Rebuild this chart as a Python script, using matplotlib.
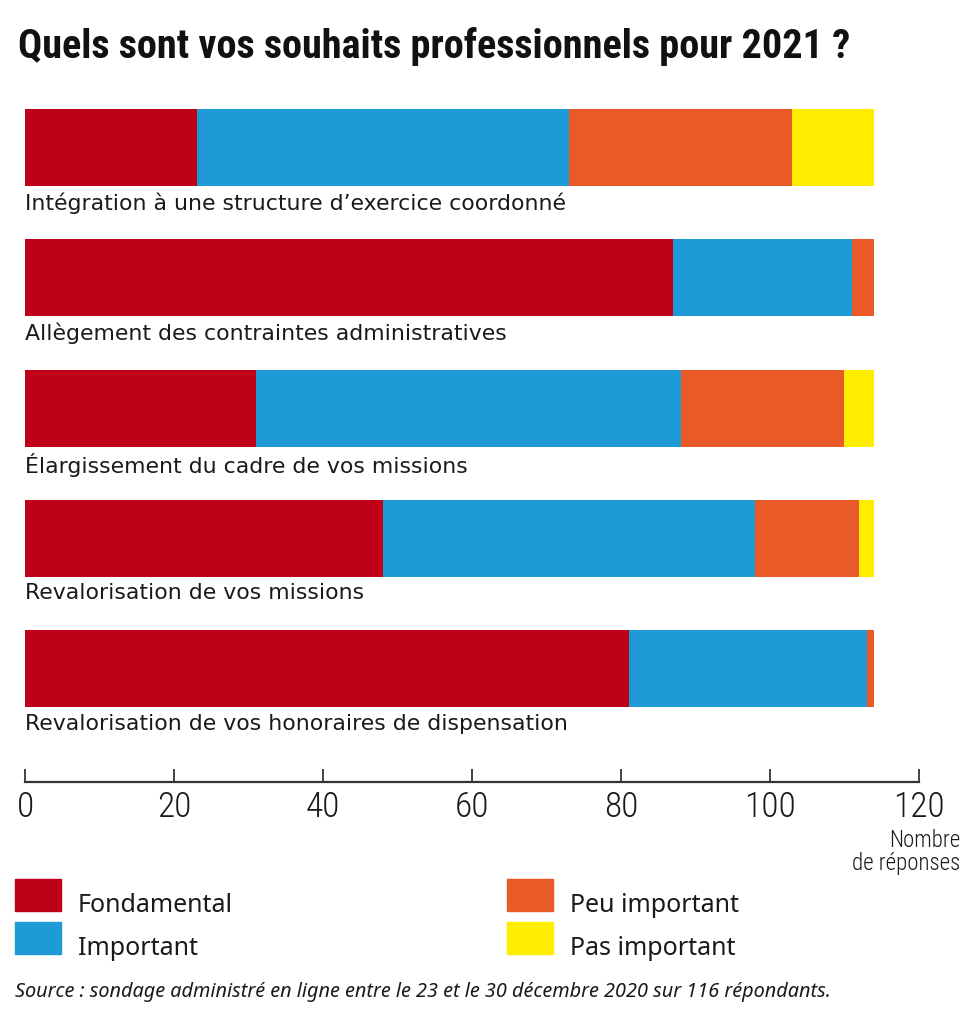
import matplotlib
matplotlib.use("Agg")
import matplotlib.pyplot as plt
from matplotlib import font_manager
from matplotlib.patches import Rectangle

# données
categories = [
    "Intégration à une structure d\u2019exercice coordonné",
    "Allègement des contraintes administratives",
    "Élargissement du cadre de vos missions",
    "Revalorisation de vos missions",
    "Revalorisation de vos honoraires de dispensation",
]
series_names = ["Fondamental", "Important", "Peu important", "Pas important"]
fondamental = [23, 87, 31, 48, 81]
important = [50, 24, 57, 50, 32]
peu_important = [30, 3, 22, 14, 1]
pas_important = [11, 0, 4, 2, 0]
xticks = [0, 20, 40, 60, 80, 100, 120]

colors = ["#BE0019", "#1E9BD7", "#EA5A28", "#FFED00"]

names = {f.name for f in font_manager.fontManager.ttflist}


def pick(cands):
    for c in cands:
        if c in names:
            return c
    return "DejaVu Sans"


NARROW = pick(["Roboto Condensed", "Liberation Sans Narrow", "DejaVu Sans Condensed", "Roboto"])
TEXT = pick(["DejaVu Sans"])
SMALL = pick(["Noto Sans"])

fig = plt.figure(figsize=(9.77, 10.24), dpi=100)
ax = fig.add_axes([0.0259, 0.2363, 0.9147, 0.666])

series = [fondamental, important, peu_important, pas_important]
bar_h = 0.592
left = [0] * len(categories)
for vals, col in zip(series, colors):
    ax.barh(range(len(categories)), vals, left=left, height=bar_h, color=col,
            edgecolor="none")
    left = [a + b for a, b in zip(left, vals)]

for i, cat in enumerate(categories):
    ax.text(-0.1, i + bar_h / 2 + 0.05, cat, ha="left", va="top",
            fontsize=15.8, family=TEXT, color="#1a1a1a")

ax.set_xlim(0, 120)
ax.set_ylim(4.871, -0.365)
for s in ["top", "left", "right"]:
    ax.spines[s].set_visible(False)
ax.spines["bottom"].set_color("#333333")
ax.spines["bottom"].set_linewidth(1.6)
ax.set_yticks([])
ax.set_xticks(xticks)
ax.tick_params(axis="x", direction="in", length=9.5, width=1.3, color="#333333",
               pad=6, labelsize=25.5, labelcolor="#1a1a1a")
for lab in ax.get_xticklabels():
    lab.set_family(NARROW)
    lab.set_fontweight("light")

fig.text(0.983, 0.19, "Nombre\nde réponses", ha="right", va="top",
         fontsize=16.5, family=NARROW, fontweight="light", color="#1a1a1a",
         linespacing=1.0)

fig.text(0.018, 0.955, "Quels sont vos souhaits professionnels pour 2021 ?",
         ha="left", va="center", fontsize=29, fontweight="black",
         family=NARROW, color="#111111")

# légende
W, H = 977, 1024
leg = [(15, 879, 0), (15, 922, 1), (507, 879, 2), (507, 922, 3)]
for x, y, k in leg:
    fig.patches.append(Rectangle((x / W, 1 - (y + 32) / H), 46 / W, 32 / H,
                                 transform=fig.transFigure, color=colors[k]))
    fig.text((x + 63) / W, 1 - (y + 33) / H, series_names[k], ha="left",
             va="baseline", fontsize=18, family=SMALL, color="#1a1a1a")

fig.text(15 / W, 1 - 997 / H,
         "Source : sondage administré en ligne entre le 23 et le 30 décembre 2020 sur 116 répondants.",
         ha="left", va="baseline", fontsize=14.3, style="italic", family=SMALL,
         color="#1a1a1a")

fig.savefig("out.png", dpi=100, facecolor="white")
